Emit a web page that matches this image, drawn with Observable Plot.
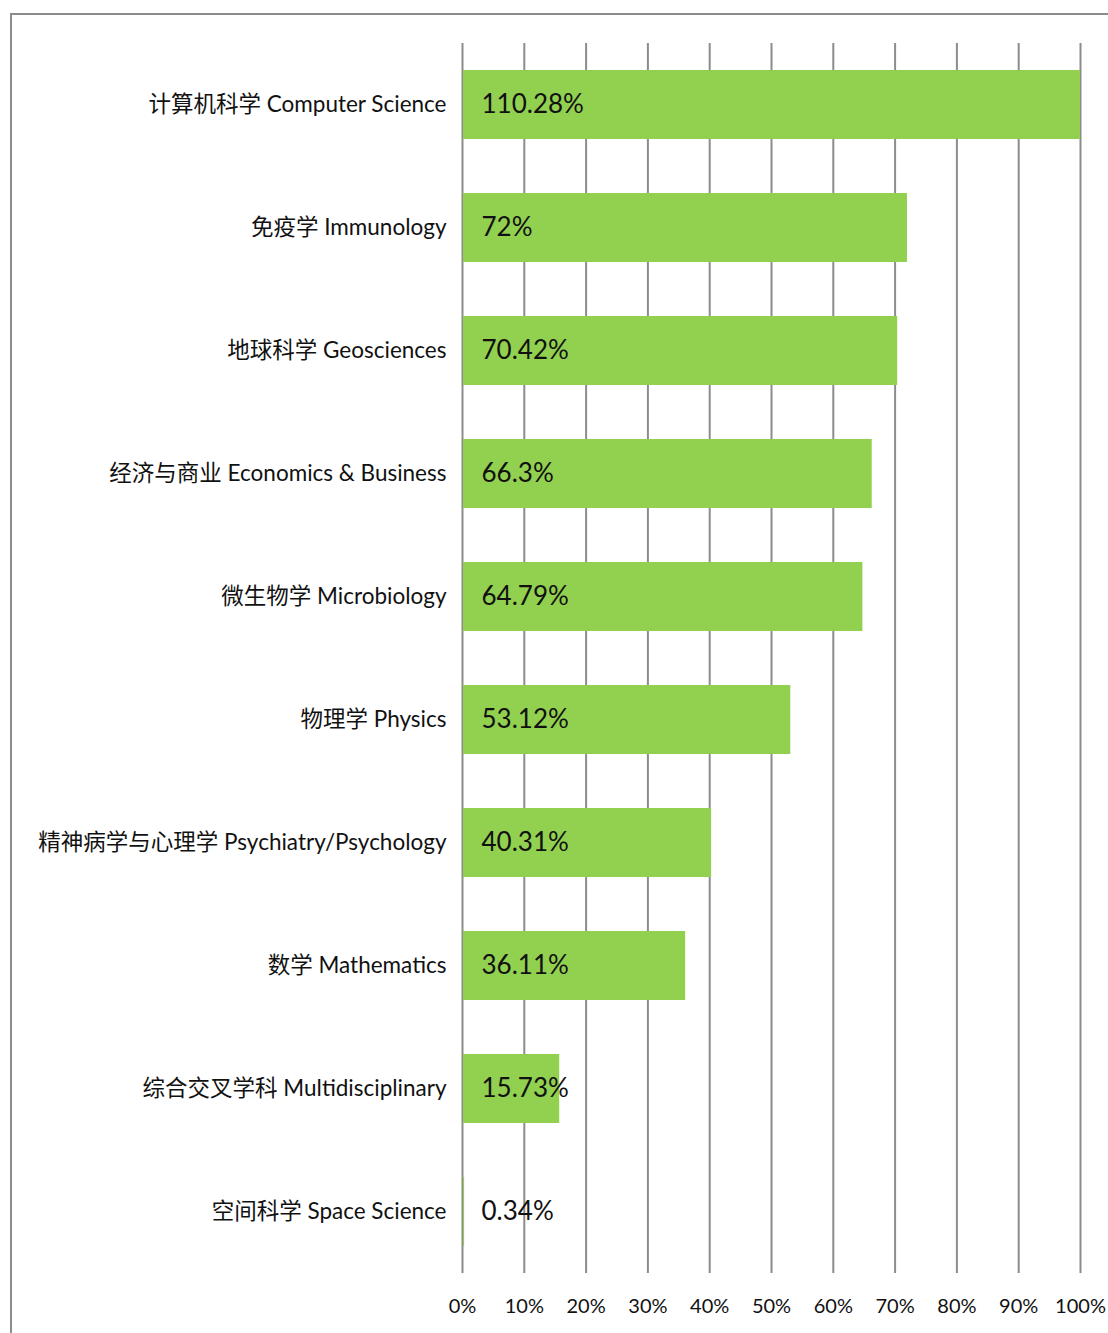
<!DOCTYPE html>
<html>
<head>
<meta charset="utf-8">
<script src="https://cdn.jsdelivr.net/npm/d3@7"></script>
<script src="https://cdn.jsdelivr.net/npm/@observablehq/plot@0.6"></script>
<style>
  html, body { margin: 0; padding: 0; background: #fff; overflow: hidden; }
  #frame { position: absolute; left: 10px; top: 13px; width: 1300px; height: 1500px;
           border-top: 2px solid #8c8c8c; border-left: 2px solid #8c8c8c; }
  #chart { position: absolute; left: 0; top: 0; }
</style>
</head>
<body>
<div id="frame"></div>
<div id="chart"></div>
<script>
const categories = [
  "计算机科学 Computer Science",
  "免疫学 Immunology",
  "地球科学 Geosciences",
  "经济与商业 Economics & Business",
  "微生物学 Microbiology",
  "物理学 Physics",
  "精神病学与心理学 Psychiatry/Psychology",
  "数学 Mathematics",
  "综合交叉学科 Multidisciplinary",
  "空间科学 Space Science"
];
const values = [110.28, 72, 70.42, 66.3, 64.79, 53.12, 40.31, 36.11, 15.73, 0.34];
const tickValues = [0, 10, 20, 30, 40, 50, 60, 70, 80, 90, 100];

const data = categories.map((c, i) => ({category: c, value: values[i], label: values[i] + "%"}));

const font = "Lato, 'Noto Sans CJK SC', sans-serif";

const chart = Plot.plot({
  width: 1108,
  height: 1333,
  marginLeft: 462,
  marginRight: 28,
  marginTop: 43,
  marginBottom: 60,
  style: {fontFamily: font, background: "transparent", color: "#111"},
  x: {domain: [0, 100], clamp: true, ticks: tickValues},
  y: {domain: categories, paddingInner: 0.44, paddingOuter: 0.22},
  marks: [
    Plot.ruleX(tickValues, {stroke: "#8c8c8c", strokeWidth: 2, strokeOpacity: 1}),
    Plot.barX(data, {y: "category", x1: 0, x2: "value", fill: "#92D050", insetLeft: 1}),
    Plot.text(data, {y: "category", x: 0, text: "label", textAnchor: "start", dx: 19, fontSize: 26, fill: "#111"}),
    Plot.axisX({ticks: tickValues, tickSize: 0, tickPadding: 25, fontSize: 20, tickFormat: d => d + "%", label: null}),
    Plot.axisY({tickSize: 0, tickPadding: 16, fontSize: 22.5, label: null})
  ]
});
document.getElementById("chart").appendChild(chart);
</script>
</body>
</html>
